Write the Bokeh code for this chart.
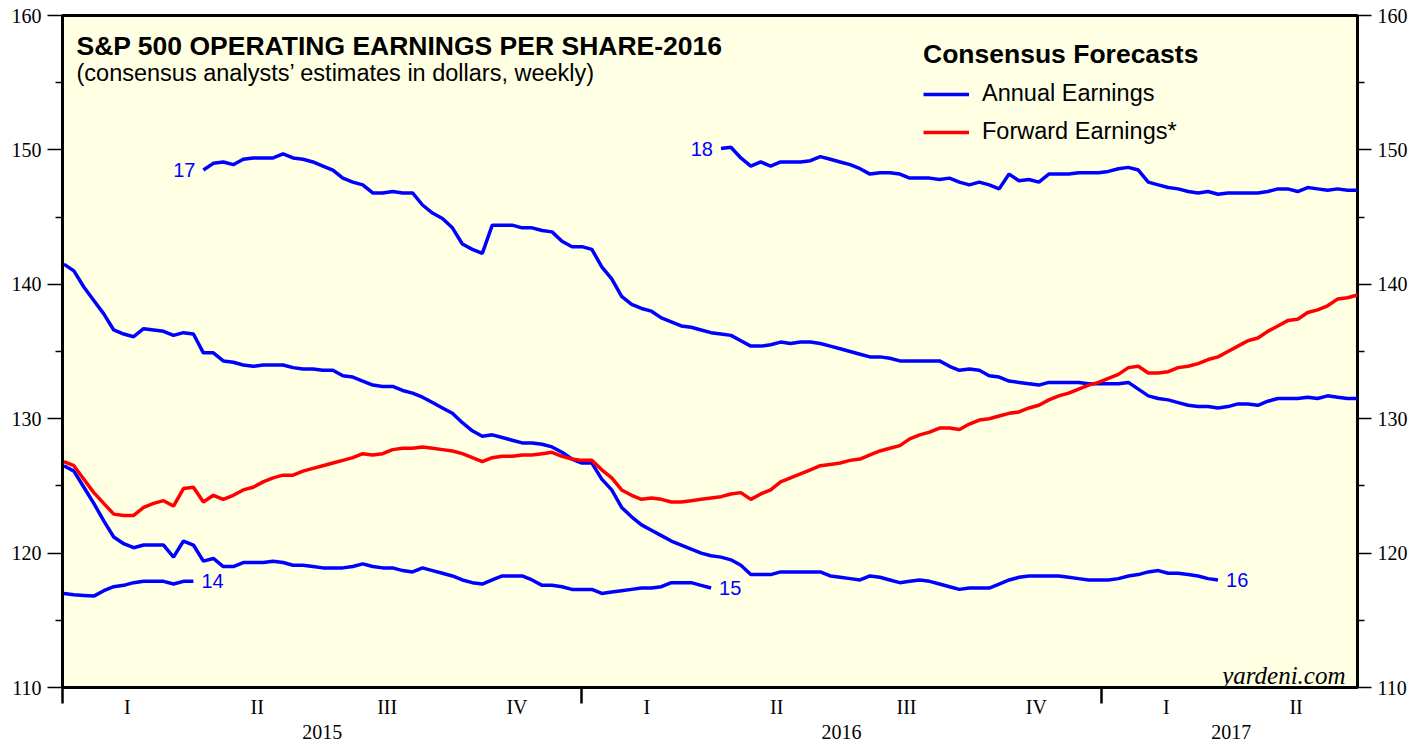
import numpy as np
import pandas as pd
from bokeh.plotting import figure
from bokeh.models import (Range1d, LinearAxis, FixedTicker, Legend, LegendItem,
                          Label, ColumnDataSource)
from bokeh.core.properties import value
from bokeh.embed import file_html
from bokeh.resources import INLINE

# ---------------- data (weekly consensus estimates, dollars) ----------------
first_week = "2015-01-02"
n_weeks = 131

e14_start = "2015-01-02"
e14 = [117.0, 116.9, 116.85, 116.8, 117.2, 117.5, 117.6, 117.8, 117.9, 117.9,
       117.9, 117.7, 117.9, 117.9]

e15_start = "2015-01-02"
e15 = [126.5, 126.1, 124.9, 123.7, 122.4, 121.2, 120.7, 120.4, 120.6, 120.6,
       120.6, 119.7, 120.9, 120.6, 119.4, 119.6, 119.0, 119.0, 119.3, 119.3,
       119.3, 119.4, 119.3, 119.1, 119.1, 119.0, 118.9, 118.9, 118.9, 119.0,
       119.2, 119.0, 118.9, 118.9, 118.7, 118.6, 118.9, 118.7, 118.5, 118.3,
       118.0, 117.8, 117.7, 118.0, 118.3, 118.3, 118.3, 118.0, 117.6, 117.6,
       117.5, 117.3, 117.3, 117.3, 117.0, 117.1, 117.2, 117.3, 117.4, 117.4,
       117.5, 117.8, 117.8, 117.8, 117.6, 117.4]

e16_start = "2015-01-02"
e16 = [141.5, 141.0, 139.8, 138.8, 137.8, 136.6, 136.3, 136.1, 136.7, 136.6,
       136.5, 136.2, 136.4, 136.3, 134.9, 134.9, 134.3, 134.2, 134.0, 133.9,
       134.0, 134.0, 134.0, 133.8, 133.7, 133.7, 133.6, 133.6, 133.2, 133.1,
       132.8, 132.5, 132.4, 132.4, 132.1, 131.9, 131.6, 131.2, 130.8, 130.4,
       129.7, 129.1, 128.7, 128.8, 128.6, 128.4, 128.2, 128.2, 128.1, 127.9,
       127.5, 127.0, 126.7, 126.7, 125.5, 124.7, 123.4, 122.7, 122.1, 121.7,
       121.3, 120.9, 120.6, 120.3, 120.0, 119.8, 119.7, 119.5, 119.1, 118.4,
       118.4, 118.4, 118.6, 118.6, 118.6, 118.6, 118.6, 118.3, 118.2, 118.1,
       118.0, 118.3, 118.2, 118.0, 117.8, 117.9, 118.0, 117.9, 117.7, 117.5,
       117.3, 117.4, 117.4, 117.4, 117.7, 118.0, 118.2, 118.3, 118.3, 118.3,
       118.3, 118.2, 118.1, 118.0, 118.0, 118.0, 118.1, 118.3, 118.4, 118.6,
       118.7, 118.5, 118.5, 118.4, 118.3, 118.1, 118.0]

e17_start = "2015-04-10"
e17 = [148.5, 149.0, 149.1, 148.9, 149.3, 149.4, 149.4, 149.4, 149.7, 149.4,
       149.3, 149.1, 148.8, 148.5, 147.9, 147.6, 147.4, 146.8, 146.8, 146.9,
       146.8, 146.8, 145.9, 145.3, 144.9, 144.2, 143.0, 142.6, 142.3, 144.4,
       144.4, 144.4, 144.2, 144.2, 144.0, 143.9, 143.2, 142.8, 142.8, 142.6,
       141.3, 140.4, 139.1, 138.5, 138.2, 138.0, 137.5, 137.2, 136.9, 136.8,
       136.6, 136.4, 136.3, 136.2, 135.8, 135.4, 135.4, 135.5, 135.7, 135.6,
       135.7, 135.7, 135.6, 135.4, 135.2, 135.0, 134.8, 134.6, 134.6, 134.5,
       134.3, 134.3, 134.3, 134.3, 134.3, 133.9, 133.6, 133.7, 133.6, 133.2,
       133.1, 132.8, 132.7, 132.6, 132.5, 132.7, 132.7, 132.7, 132.7, 132.6,
       132.6, 132.6, 132.6, 132.7, 132.2, 131.7, 131.5, 131.4, 131.2, 131.0,
       130.9, 130.9, 130.8, 130.9, 131.1, 131.1, 131.0, 131.3, 131.5, 131.5,
       131.5, 131.6, 131.5, 131.7, 131.6, 131.5, 131.5]

e18_start = "2016-04-08"
e18 = [150.1, 150.2, 149.4, 148.8, 149.1, 148.8, 149.1, 149.1, 149.1, 149.2,
       149.5, 149.3, 149.1, 148.9, 148.6, 148.2, 148.3, 148.3, 148.2, 147.9,
       147.9, 147.9, 147.8, 147.9, 147.6, 147.4, 147.6, 147.4, 147.1, 148.2,
       147.7, 147.8, 147.6, 148.2, 148.2, 148.2, 148.3, 148.3, 148.3, 148.4,
       148.6, 148.7, 148.5, 147.6, 147.4, 147.2, 147.1, 146.9, 146.8, 146.9,
       146.7, 146.8, 146.8, 146.8, 146.8, 146.9, 147.1, 147.1, 146.9, 147.2,
       147.1, 147.0, 147.1, 147.0, 147.0]

fwd_start = "2015-01-02"
fwd = [126.8, 126.5, 125.5, 124.5, 123.7, 122.9, 122.8, 122.8, 123.4, 123.7,
       123.9, 123.5, 124.8, 124.9, 123.8, 124.3, 124.0, 124.3, 124.7, 124.9,
       125.3, 125.6, 125.8, 125.8, 126.1, 126.3, 126.5, 126.7, 126.9, 127.1,
       127.4, 127.3, 127.4, 127.7, 127.8, 127.8, 127.9, 127.8, 127.7, 127.6,
       127.4, 127.1, 126.8, 127.1, 127.2, 127.2, 127.3, 127.3, 127.4, 127.5,
       127.2, 127.0, 126.9, 126.9, 126.2, 125.6, 124.7, 124.3, 124.0, 124.1,
       124.0, 123.8, 123.8, 123.9, 124.0, 124.1, 124.2, 124.4, 124.5, 124.0,
       124.4, 124.7, 125.3, 125.6, 125.9, 126.2, 126.5, 126.6, 126.7, 126.9,
       127.0, 127.3, 127.6, 127.8, 128.0, 128.5, 128.8, 129.0, 129.3, 129.3,
       129.2, 129.6, 129.9, 130.0, 130.2, 130.4, 130.5, 130.8, 131.0, 131.4,
       131.7, 131.9, 132.2, 132.5, 132.7, 133.0, 133.3, 133.8, 133.9, 133.4,
       133.4, 133.5, 133.8, 133.9, 134.1, 134.4, 134.6, 135.0, 135.4, 135.8,
       136.0, 136.5, 136.9, 137.3, 137.4, 137.9, 138.1, 138.4, 138.9, 139.0,
       139.2]

quarter_labels = ["I", "II", "III", "IV", "I", "II", "III", "IV", "I", "II"]
quarter_pos = [2015.125, 2015.375, 2015.625, 2015.875,
               2016.125, 2016.375, 2016.625, 2016.875,
               2017.125, 2017.375]
year_labels = ["2015", "2016", "2017"]
year_pos = [2015.5, 2016.5, 2017.25]
year_bounds = [2015.0, 2016.0, 2017.0]

# ---------------- helpers ----------------
weeks = pd.date_range(first_week, periods=n_weeks, freq="7D")


def decyear(d):
    days = 366 if d.is_leap_year else 365
    return d.year + (d.dayofyear - 1) / days


xw = np.array([decyear(d) for d in weeks])


def series_x(start, vals):
    i0 = weeks.get_loc(pd.Timestamp(start))
    return list(xw[i0:i0 + len(vals)])


BLUE = "#0000FF"
RED = "#FF0000"
SANS = "Liberation Sans"
SERIF = "Liberation Serif"

p = figure(width=1419, height=743,
           x_range=Range1d(2015.0, 2017.4932), y_range=Range1d(110, 160),
           output_backend="svg", toolbar_location=None,
           x_axis_type=None, y_axis_type=None,
           min_border_left=62, min_border_right=62,
           min_border_top=15, min_border_bottom=56,
           background_fill_color="#FFFFE4", border_fill_color="white",
           outline_line_color="black", outline_line_width=3)
p.grid.visible = False

LW = 3.5
r14 = p.line(series_x(e14_start, e14), e14, line_color=BLUE, line_width=LW)
r15 = p.line(series_x(e15_start, e15), e15, line_color=BLUE, line_width=LW)
r16 = p.line(series_x(e16_start, e16), e16, line_color=BLUE, line_width=LW)
r17 = p.line(series_x(e17_start, e17), e17, line_color=BLUE, line_width=LW)
r18 = p.line(series_x(e18_start, e18), e18, line_color=BLUE, line_width=LW)
rf = p.line(series_x(fwd_start, fwd), fwd, line_color=RED, line_width=LW)

# series tags
end_src = ColumnDataSource(dict(
    x=[series_x(e14_start, e14)[-1], series_x(e15_start, e15)[-1],
       series_x(e16_start, e16)[-1]],
    y=[e14[-1], e15[-1], e16[-1]], t=["14", "15", "16"]))
p.text(x="x", y="y", text="t", source=end_src, x_offset=8,
       text_align="left", text_baseline="middle", text_color=BLUE,
       text_font=value(SANS), text_font_size="20px")
start_src = ColumnDataSource(dict(
    x=[series_x(e17_start, e17)[0], series_x(e18_start, e18)[0]],
    y=[e17[0], e18[0]], t=["17", "18"]))
p.text(x="x", y="y", text="t", source=start_src, x_offset=-8,
       text_align="right", text_baseline="middle", text_color=BLUE,
       text_font=value(SANS), text_font_size="20px")

# y axes
for side, out in (("left", 15), ("right", 14)):
    ax = LinearAxis(ticker=FixedTicker(ticks=[110, 120, 130, 140, 150, 160],
                                       minor_ticks=[115, 125, 135, 145, 155]))
    ax.axis_line_color = None
    ax.major_tick_out = out
    ax.major_tick_in = 0
    ax.minor_tick_out = 7
    ax.minor_tick_in = 0
    ax.major_tick_line_color = "black"
    ax.minor_tick_line_color = "black"
    ax.major_tick_line_width = 1.5
    ax.minor_tick_line_width = 1.5
    ax.major_label_standoff = 6
    ax.major_label_text_font = SERIF
    ax.major_label_text_font_size = "20px"
    ax.major_label_text_color = "black"
    p.add_layout(ax, side)

# x axis: quarters + year boundary ticks
qax = LinearAxis(ticker=FixedTicker(ticks=quarter_pos, minor_ticks=year_bounds))
qax.axis_line_color = None
qax.major_tick_line_color = None
qax.major_tick_out = 0
qax.major_tick_in = 0
qax.minor_tick_out = 16
qax.minor_tick_in = 0
qax.minor_tick_line_width = 2.5
qax.minor_tick_line_color = "black"
qax.major_label_standoff = -8
qax.major_label_text_font = SERIF
qax.major_label_text_font_size = "20px"
qax.major_label_text_color = "black"
qax.major_label_overrides = {float(k): v for k, v in zip(quarter_pos, quarter_labels)}
p.add_layout(qax, "below")

yax = LinearAxis(ticker=FixedTicker(ticks=year_pos, minor_ticks=[]))
yax.axis_line_color = None
yax.major_tick_line_color = None
yax.major_tick_out = 0
yax.major_tick_in = 0
yax.minor_tick_line_color = None
yax.major_label_standoff = 4
yax.major_label_text_font = SERIF
yax.major_label_text_font_size = "20px"
yax.major_label_text_color = "black"
yax.major_label_overrides = {float(k): v for k, v in zip(year_pos, year_labels)}
p.add_layout(yax, "below")

# titles
p.add_layout(Label(x=14, y=642, x_units="screen", y_units="screen",
                   text="S&P 500 OPERATING EARNINGS PER SHARE-2016",
                   text_font=SANS, text_font_style="bold", text_color="black",
                   text_font_size="26.5px", text_baseline="alphabetic"))
p.add_layout(Label(x=14, y=615, x_units="screen", y_units="screen",
                   text="(consensus analysts\u2019 estimates in dollars, weekly)",
                   text_font=SANS, text_font_size="23.5px", text_color="black",
                   text_baseline="alphabetic"))
p.add_layout(Label(x=1283, y=12, x_units="screen", y_units="screen",
                   text="yardeni.com", text_font=SERIF, text_color="black",
                   text_font_style="italic", text_font_size="25px",
                   text_align="right", text_baseline="alphabetic"))

legend = Legend(items=[LegendItem(label="Annual Earnings", renderers=[r16]),
                       LegendItem(label="Forward Earnings*", renderers=[rf])],
                location=(861, 542), title="Consensus Forecasts",
                title_text_font=SANS, title_text_font_style="bold",
                title_text_font_size="26.5px", title_standoff=10,
                title_text_color="black",
                label_text_font=SANS, label_text_font_size="23.5px",
                label_text_color="black",
                glyph_width=46, glyph_height=24, label_height=24,
                label_standoff=13, spacing=11, padding=10,
                background_fill_alpha=0, border_line_color=None)
p.add_layout(legend, "center")

open("out.html", "w").write(file_html(p, INLINE))
